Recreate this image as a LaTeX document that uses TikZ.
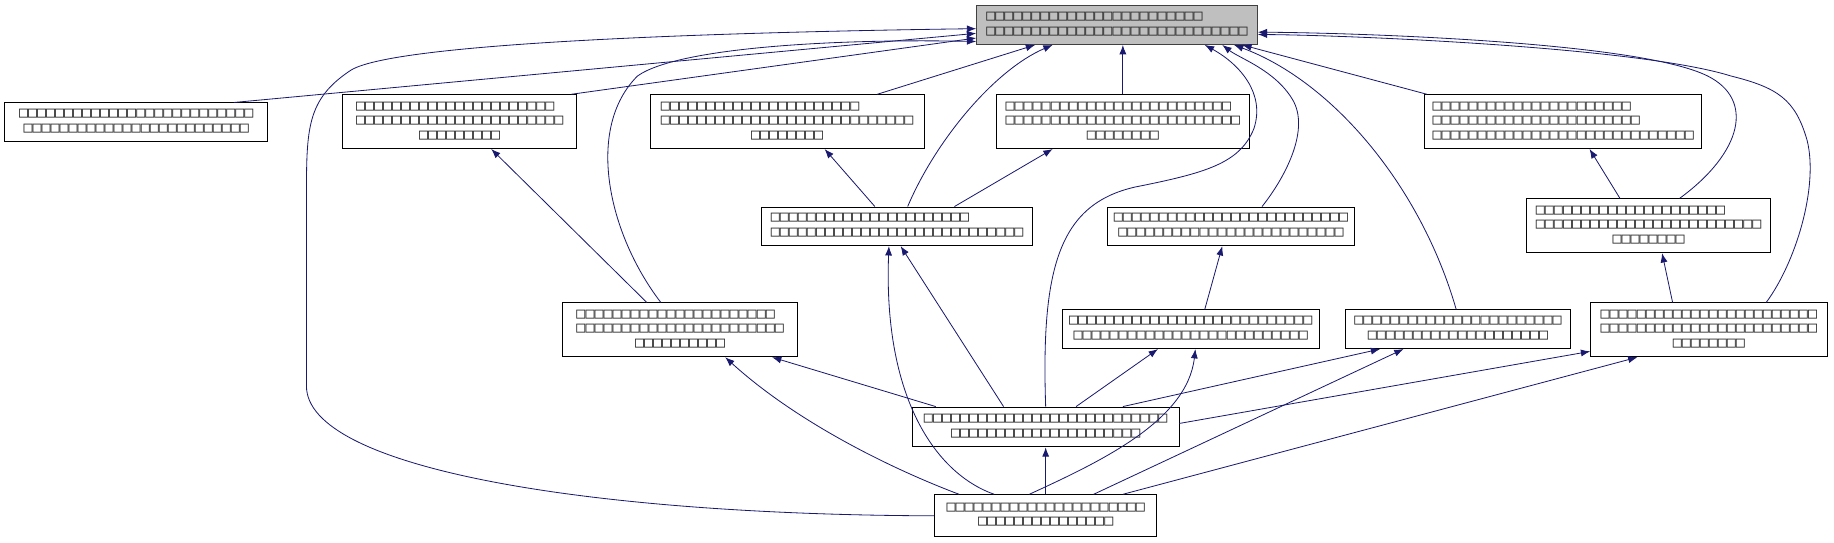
\documentclass[tikz,border=0pt]{standalone}
\usepackage{fontspec}
\setmainfont{DejaVu Sans}
\newfontfamily\tofufont{DejaVu Sans Mono}
\usetikzlibrary{arrows.meta}
\definecolor{edgeblue}{HTML}{191970}
\definecolor{focusgray}{HTML}{BFBFBF}
\newcommand\tofu[1]{\foreach\k in {1,...,#1}{□}}
\newcommand\lbltwo[2]{\begin{tabular}{@{}l@{}}\tofu{#1}\\\multicolumn{1}{@{}c@{}}{\tofu{#2}}\end{tabular}}
\newcommand\lblthree[3]{\begin{tabular}{@{}l@{}}\tofu{#1}\\\tofu{#2}\\\multicolumn{1}{@{}c@{}}{\tofu{#3}}\end{tabular}}

\begin{document}
\begin{tikzpicture}[x=1pt, y=-1pt,
  file/.style={draw=black, line width=0.8pt, inner sep=0pt, text=black!85, font=\tofufont\fontsize{12.8}{12.4}\selectfont},
  focus/.style={file, fill=focusgray, draw=black!75},
  dep/.style={draw=edgeblue, line width=0.7pt, -{Latex[length=8pt,width=6pt]}}]
  \useasboundingbox (0,0) rectangle (1568,464);

  % files
  \node[focus, minimum width=240pt, minimum height=33pt] (target) at (955,21.5) {\lbltwo{24}{29}};
  \node[file, minimum width=225pt, minimum height=33pt] (p1) at (116.5,104.5) {\lbltwo{26}{25}};
  \node[file, minimum width=200pt, minimum height=46pt] (p2) at (393,104) {\lblthree{22}{23}{9}};
  \node[file, minimum width=234pt, minimum height=46pt] (p3) at (673,104) {\lblthree{22}{28}{8}};
  \node[file, minimum width=216pt, minimum height=46pt] (p4) at (960,104) {\lblthree{25}{26}{8}};
  \node[file, minimum width=237pt, minimum height=46pt] (p5) at (1336.5,104) {\lblthree{22}{23}{29}};
  \node[file, minimum width=232pt, minimum height=33pt] (q1) at (767,193.5) {\lbltwo{22}{28}};
  \node[file, minimum width=211pt, minimum height=33pt] (q2) at (1052.5,193.5) {\lbltwo{26}{25}};
  \node[file, minimum width=209pt, minimum height=46pt] (q3) at (1409.5,193) {\lblthree{21}{25}{8}};
  \node[file, minimum width=201pt, minimum height=46pt] (s1) at (581.5,282) {\lblthree{22}{23}{10}};
  \node[file, minimum width=220pt, minimum height=33pt] (s2) at (1018,281.5) {\lbltwo{27}{26}};
  \node[file, minimum width=193pt, minimum height=33pt] (s3) at (1246.5,281.5) {\lbltwo{23}{20}};
  \node[file, minimum width=202pt, minimum height=46pt] (s4) at (1461,282) {\lblthree{24}{24}{8}};
  \node[file, minimum width=228pt, minimum height=34pt] (u1) at (894,365) {\lbltwo{27}{21}};
  \node[file, minimum width=190pt, minimum height=36pt] (v1) at (894,441) {\lbltwo{22}{15}};

  % into the header
  \draw[dep] ([xshift=83.5pt]p1.north) -- ([yshift=-7pt]target.west);
  \draw[dep] ([xshift=-5pt]p2.north east) -- ([yshift=-11pt]target.west);
  \draw[dep] ([xshift=77pt]p3.north) -- ([xshift=-70pt]target.south);
  \draw[dep] (p4.north) -- (p4.north |- target.south);
  \draw[dep] ([xshift=-116.5pt]p5.north) -- ([xshift=107pt]target.south);
  \draw[dep] ([xshift=9pt]q1.north) .. controls (800,120) and (850,60) .. ([xshift=-55pt]target.south);
  \draw[dep] ([xshift=26.5pt]q2.north) .. controls (1100,150) and (1120,110) .. (1105,85) .. controls (1090,60) and (1060,50) .. ([xshift=90pt]target.south);
  \draw[dep] ([xshift=26.5pt]q3.north) .. controls (1490,130) and (1500,85) .. (1460,65) .. controls (1400,35) and (1150,28) .. ([yshift=-6pt]target.east);
  \draw[dep] ([xshift=-16.5pt]s1.north) .. controls (520,200) and (500,110) .. (545,65) .. controls (580,40) and (720,33) .. ([yshift=-14pt]target.west);
  \draw[dep] ([xshift=-1.5pt]s3.north) .. controls (1215,160) and (1140,70) .. ([xshift=100pt]target.south);
  \draw[dep] ([xshift=49pt]s4.north) .. controls (1535,225) and (1555,160) .. (1545,120) .. controls (1535,85) and (1520,75) .. (1480,65) .. controls (1400,40) and (1150,30) .. ([yshift=-8pt]target.east);
  \draw[dep] (u1.north) .. controls (890,230) and (905,175) .. (970,160) .. controls (1030,148) and (1060,140) .. (1072,110) .. controls (1082,80) and (1060,55) .. ([xshift=75pt]target.south);
  \draw[dep] (v1.west) .. controls (500,440) and (262,400) .. (262,330) -- (262,170) .. controls (262,110) and (262,85) .. (300,60) .. controls (340,35) and (650,27) .. ([yshift=-3pt]target.west);

  % lower includes
  \draw[dep] ([xshift=-19pt]q1.north) -- ([xshift=32pt]p3.south);
  \draw[dep] ([xshift=49pt]q1.north) -- ([xshift=-60pt]p4.south);
  \draw[dep] ([xshift=-28.5pt]s1.north) -- ([xshift=27pt]p2.south);
  \draw[dep] ([xshift=-24.5pt]q3.north) -- ([xshift=22.5pt]p5.south);
  \draw[dep] ([xshift=12pt]s2.north) -- ([xshift=-7.5pt]q2.south);
  \draw[dep] ([xshift=-31pt]s4.north) -- ([xshift=11.5pt]q3.south);
  \draw[dep] ([xshift=-36pt]u1.north) -- ([xshift=3pt]q1.south);
  \draw[dep] ([xshift=-94pt]u1.north) -- ([xshift=78.5pt]s1.south);
  \draw[dep] ([xshift=26pt]u1.north) -- ([xshift=-28pt]s2.south);
  \draw[dep] ([xshift=66pt]u1.north) -- ([xshift=-66.5pt]s3.south);
  \draw[dep] ([yshift=3pt]u1.east) -- ([yshift=5pt]s4.south west);
  \draw[dep] ([xshift=66pt]v1.north) -- ([xshift=-61pt]s4.south);
  \draw[dep] ([xshift=41pt]v1.north) -- ([xshift=-46.5pt]s3.south);
  \draw[dep] ([xshift=-44pt]v1.north) .. controls (800,405) and (755,340) .. ([xshift=-7pt]q1.south);
  \draw[dep] ([xshift=-74pt]v1.north) .. controls (760,400) and (680,360) .. ([xshift=38.5pt]s1.south);
  \draw[dep] ([xshift=-14pt]v1.north) .. controls (940,395) and (1015,360) .. ([xshift=4pt]s2.south);
  \draw[dep] (v1.north) -- (u1.south);
\end{tikzpicture}
\end{document}
